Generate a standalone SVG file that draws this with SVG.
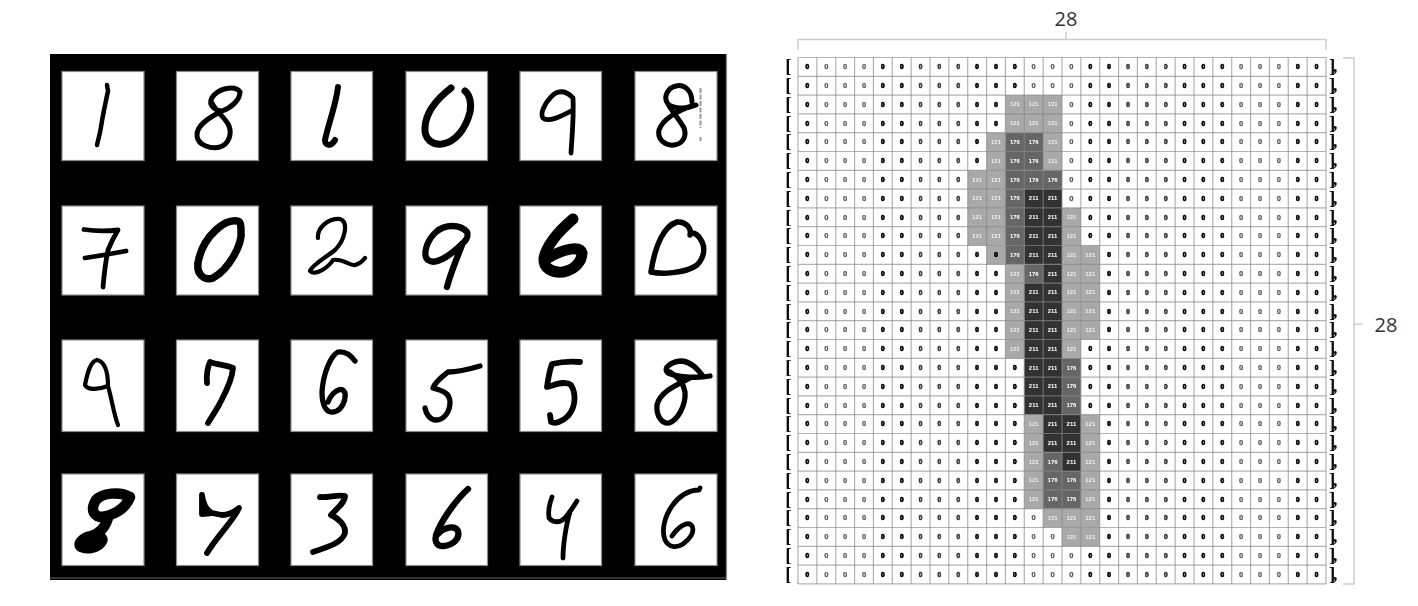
<svg xmlns="http://www.w3.org/2000/svg" width="1418" height="606" viewBox="0 0 1418 606">
<style>
.box{fill:#fff;stroke:#8a8a8a;stroke-width:1.2}
.d{fill:none;stroke:#000;stroke-linecap:round;stroke-linejoin:round}
text{font-family:"Liberation Sans",Arial,sans-serif;text-anchor:middle}
.k{font-size:6.5px;font-weight:700;fill:#000;stroke:#000;stroke-width:.7}
.s{font-size:6.5px;font-weight:700;fill:#333;stroke:#333;stroke-width:.6}
.o{font-size:7.5px;font-weight:700;fill:#555;stroke:#555;stroke-width:.25}
.a{fill:#a9a9a9}.b{fill:#666}.c{fill:#333}
.n{font-size:6px;font-weight:700;fill:#fff}
.m{font-size:6px;font-weight:700;fill:#eee}
.br{font-family:"Liberation Serif",serif;font-size:19px;font-weight:700;fill:#111;text-anchor:start;letter-spacing:-2.5px}
.lab{font-family:"Open Sans",sans-serif;font-size:20px;fill:#333}
.gl{fill:none;stroke:#888;stroke-opacity:.65;stroke-width:1.2;vector-effect:non-scaling-stroke}
.dim{fill:none;stroke:#ccc;stroke-width:1.4}
</style>
<defs>
<filter id="soft" x="-2%" y="-2%" width="104%" height="104%"><feGaussianBlur stdDeviation="0.7"/></filter>
<filter id="soft2" x="-2%" y="-2%" width="104%" height="104%"><feGaussianBlur stdDeviation="0.42"/></filter>
<g id="zr">
<text class="br" x="785.2" y="2.9">[</text><text class="br" x="1329" y="2.9">],</text>
<text class="k" x="807.4">0</text><text class="o" x="826.3">0</text><text class="o" x="845.1">0</text><text class="o" x="864">0</text><text class="k" x="882.9">0</text><text class="k" x="901.7">0</text><text class="s" x="920.6">0</text><text class="s" x="939.4">0</text><text class="s" x="958.3">0</text><text class="k" x="977.1">0</text><text class="k" x="996">0</text><text class="k" x="1014.9">0</text><text class="o" x="1033.7">0</text><text class="o" x="1052.6">0</text><text class="o" x="1071.4">0</text><text class="k" x="1090.3">0</text><text class="k" x="1109.1">0</text><text class="s" x="1128">0</text><text class="s" x="1146.9">0</text><text class="s" x="1165.7">0</text><text class="k" x="1184.6">0</text><text class="k" x="1203.4">0</text><text class="k" x="1222.3">0</text><text class="o" x="1241.1">0</text><text class="o" x="1260">0</text><text class="o" x="1278.9">0</text><text class="k" x="1297.7">0</text><text class="k" x="1316.6">0</text>
</g>
</defs>
<rect width="1418" height="606" fill="#fff"/>
<g id="mnist-panel">
<rect x="50" y="54" width="676.5" height="526" fill="#000"/>
<path d="M726.5 54V580" stroke="#888" stroke-width="1.2" fill="none"/>
<path d="M50 578H726" stroke="#666" stroke-width="1" fill="none"/>
<g id="boxes" filter="url(#soft2)">
<rect class="box" x="62" y="71.5" width="82" height="89"/><rect class="box" x="176.500" y="71.5" width="82" height="89"/><rect class="box" x="291" y="71.5" width="81.500" height="89"/><rect class="box" x="406" y="71.5" width="81.500" height="89"/><rect class="box" x="520" y="71.5" width="81.500" height="89"/><rect class="box" x="635" y="71.5" width="82" height="89"/>
<rect class="box" x="62" y="206" width="82" height="89"/><rect class="box" x="176.500" y="206" width="82" height="89"/><rect class="box" x="291" y="206" width="81.500" height="89"/><rect class="box" x="406" y="206" width="81.500" height="89"/><rect class="box" x="520" y="206" width="81.500" height="89"/><rect class="box" x="635" y="206" width="82" height="89"/>
<rect class="box" x="62" y="340" width="82" height="91.500"/><rect class="box" x="176.500" y="340" width="82" height="91.500"/><rect class="box" x="291" y="340" width="81.500" height="91.500"/><rect class="box" x="406" y="340" width="81.500" height="91.500"/><rect class="box" x="520" y="340" width="81.500" height="91.500"/><rect class="box" x="635" y="340" width="82" height="91.500"/>
<rect class="box" x="62" y="474" width="82" height="91.500"/><rect class="box" x="176.500" y="474" width="82" height="91.500"/><rect class="box" x="291" y="474" width="81.500" height="91.500"/><rect class="box" x="406" y="474" width="81.500" height="91.500"/><rect class="box" x="520" y="474" width="81.500" height="91.500"/><rect class="box" x="635" y="474" width="82" height="91.500"/>
</g>
<g id="digits" filter="url(#soft)">
<path class="d" stroke-width="4.500" d="M107 85L108 91C105 105 102 120 101 127C100 134 98 140 97 145"/>
<path class="d" stroke-width="5" d="M240 92C236 86 222 87 214 95C207 103 212 110 222 111C231 108 240 100 240 92M222 111C210 117 196 125 197 136C198 146 212 149 220 147C229 144 232 134 229 126C226 118 216 112 212 103"/>
<path class="d" stroke-width="6" d="M338 87C336 105 328 125 325 140C325 146 331 147 335 140"/>
<path class="d" stroke-width="7" d="M451 88C438 98 426 112 425 127C424 140 433 145 442 144C456 142 466 128 470 112C472 102 469 94 465 91"/>
<path class="d" stroke-width="4.800" d="M572 97C565 90 557 90 551 97C544 104 540 114 543 118C548 123 562 116 573 110M573 98C574 118 572 135 571 153"/>
<path class="d" stroke-width="5" d="M692 102C692 90 684 84 676 86C667 88 663 98 668 104C672 108 685 110 696 105M692 106C678 110 662 120 659 130C657 140 666 146 674 145C683 144 687 136 684 128C680 120 672 112 668 104"/>
<path d="M700.500 88V128M700.500 137V141" stroke="#999" stroke-width="2" stroke-dasharray="5 1.500" fill="none"/>
<path class="d" stroke-width="4.800" d="M84 229.500Q100 232 118 230Q112 240 108 250C105 265 104 275 103 287M85 258Q105 255 126 251"/>
<path class="d" stroke-width="7.500" d="M237 221C225 219 205 235 199 258C194 275 205 281 213 278C228 270 243 245 241 230C241 224 240 221 237 221Z"/>
<path class="d" stroke-width="4.200" d="M318 238C317 228 328 218 340 219C349 222 345 240 335 250C325 258 312 265 310 271C315 276 328 268 333 260C342 258 350 266 355 265C359 264 362 262 365 258"/>
<path class="d" stroke-width="6.300" d="M467 232C460 224 445 224 436 232C427 240 422 255 428 260C436 266 452 254 464 242C468 238 468 234 467 232M462 245C456 260 450 275 447 287"/>
<path class="d" stroke-width="11" d="M573 219C560 230 547 245 544 258C543 268 552 273 563 272C574 270 582 262 582 253C580 246 565 248 548 258"/>
<path class="d" stroke-width="5.500" d="M677 222C664 226 655 245 651 272C660 274 685 274 697 265C704 258 706 248 701 240C698 234 692 231 690 235C692 228 685 221 677 222Z"/>
<path class="d" stroke-width="4.200" d="M97 360C90 361 87 375 85 385C88 391 100 389 108 386C108 375 106 362 97 360M108 386C112 400 114 415 118 425"/>
<path class="d" stroke-width="5.800" d="M207 383C206 375 208 366 210 362C218 365 226 365 233 368C232 382 224 395 219 405C215 412 211 418 208 423"/>
<path class="d" stroke-width="5.300" d="M355 361C350 354 344 351 338 352C330 356 323 375 322 392C322 405 326 413 333 412C342 411 346 400 345 393C342 385 332 392 328 402"/>
<path class="d" stroke-width="5.300" d="M480 366C470 369 458 372 448 372C443 376 435 382 433 388C440 390 450 392 450 402C450 412 444 420 436 420C430 420 426 414 425 408"/>
<path class="d" stroke-width="5.800" d="M580 362C570 361 560 362 552 364C549 372 548 380 547 387C555 385 565 380 571 385C577 395 575 408 568 416C562 422 555 424 551 422L550 415"/>
<path class="d" stroke-width="5.300" d="M710 376C700 378 680 378 668 373C662 368 672 361 682 361C692 362 698 370 703 376M690 378C676 385 660 392 657 405C656 416 662 424 669 423C678 420 686 405 685 392C684 385 680 378 670 372"/>
<path class="d" stroke-width="10.500" d="M130 497C120 491 102 493 96 500C91 508 92 515 100 517C112 516 125 510 130 497M108 518C105 528 100 532 92 536"/>
<ellipse cx="91" cy="542" rx="17" ry="11" transform="rotate(-15 91 542)"/>
<path class="d" stroke-width="5.800" d="M202 495L202 514L212 513M202 495C203 503 206 510 212 513L222 515C228 515 234 512 239 508C234 520 218 535 207 553"/>
<path class="d" stroke-width="5.800" d="M320 497C328 498 338 494 345 496C345 503 335 510 331 515C338 518 346 525 345 533C342 543 328 547 313 552"/>
<path class="d" stroke-width="6.300" d="M468 489C458 498 445 515 438 530C433 540 436 547 444 546C454 545 460 538 458 531C455 525 444 527 438 534"/>
<path class="d" stroke-width="4.800" d="M552 497C549 505 548 512 549 518C553 523 560 523 565 518C570 512 574 506 577 501M570 512C566 525 563 545 563 558"/>
<path class="d" stroke-width="4.800" d="M700 488L699 490C688 490 678 497 672 506C665 516 661 530 665 540C669 548 677 548 683 544C690 539 695 532 692 526C688 520 678 527 672 536"/>
</g>
</g>
<g id="pixel-grid" filter="url(#soft2)">
<g id="zeros">
<use href="#zr" y="69.2"/><use href="#zr" y="88"/><use href="#zr" y="106.8"/><use href="#zr" y="125.6"/><use href="#zr" y="144.4"/><use href="#zr" y="163.2"/><use href="#zr" y="182"/><use href="#zr" y="200.8"/><use href="#zr" y="219.6"/><use href="#zr" y="238.4"/><use href="#zr" y="257.2"/><use href="#zr" y="276"/><use href="#zr" y="294.8"/><use href="#zr" y="313.6"/><use href="#zr" y="332.4"/><use href="#zr" y="351.2"/><use href="#zr" y="370"/><use href="#zr" y="388.8"/><use href="#zr" y="407.6"/><use href="#zr" y="426.4"/><use href="#zr" y="445.2"/><use href="#zr" y="464"/><use href="#zr" y="482.8"/><use href="#zr" y="501.6"/><use href="#zr" y="520.4"/><use href="#zr" y="539.2"/><use href="#zr" y="558"/><use href="#zr" y="576.8"/>
</g>
<g id="fills" transform="translate(798 57.5) scale(18.857 18.8)">
<rect class="a" x="11" y="2" width="3" height="2"/>
<rect class="a" x="10" y="4" width="1" height="2"/><rect class="b" x="11" y="4" width="2" height="2"/><rect class="a" x="13" y="4" width="1" height="2"/>
<rect class="a" x="9" y="6" width="2" height="1"/><rect class="b" x="11" y="6" width="3" height="1"/>
<rect class="a" x="9" y="7" width="2" height="3"/><rect class="b" x="11" y="7" width="1" height="4"/><rect class="c" x="12" y="7" width="2" height="4"/>
<rect class="a" x="14" y="8" width="1" height="8"/>
<rect class="a" x="10" y="10" width="1" height="1"/><rect class="a" x="15" y="10" width="1" height="5"/>
<rect class="a" x="11" y="11" width="1" height="5"/><rect class="b" x="12" y="11" width="1" height="1"/><rect class="c" x="13" y="11" width="1" height="1"/>
<rect class="c" x="12" y="12" width="2" height="7"/><rect class="b" x="14" y="16" width="1" height="3"/>
<rect class="a" x="12" y="19" width="1" height="5"/><rect class="c" x="13" y="19" width="2" height="2"/><rect class="a" x="15" y="19" width="1" height="6"/><rect class="b" x="13" y="21" width="1" height="3"/><rect class="c" x="14" y="21" width="1" height="1"/><rect class="b" x="14" y="22" width="1" height="2"/>
<rect class="a" x="13" y="24" width="2" height="1"/><rect class="a" x="14" y="25" width="2" height="1"/>
<path class="gl" d="M0 0V28M1 0V28M2 0V28M3 0V28M4 0V28M5 0V28M6 0V28M7 0V28M8 0V28M9 0V28M10 0V28M11 0V28M12 0V28M13 0V28M14 0V28M15 0V28M16 0V28M17 0V28M18 0V28M19 0V28M20 0V28M21 0V28M22 0V28M23 0V28M24 0V28M25 0V28M26 0V28M27 0V28M28 0V28"/>
<path class="gl" d="M0 0H28M0 1H28M0 2H28M0 3H28M0 4H28M0 5H28M0 6H28M0 7H28M0 8H28M0 9H28M0 10H28M0 11H28M0 12H28M0 13H28M0 14H28M0 15H28M0 16H28M0 17H28M0 18H28M0 19H28M0 20H28M0 21H28M0 22H28M0 23H28M0 24H28M0 25H28M0 26H28M0 27H28M0 28H28"/>
</g>
<g id="values">
<text class="k" x="996" y="257.200">0</text>
<text class="m" x="1014.900" y="106.300">121</text><text class="m" x="1033.700" y="106.300">121</text><text class="m" x="1052.600" y="106.300">121</text>
<text class="m" x="1014.900" y="125.100">121</text><text class="m" x="1033.700" y="125.100">121</text><text class="m" x="1052.600" y="125.100">121</text>
<text class="m" x="996" y="143.900">121</text><text class="n" x="1014.900" y="143.900">176</text><text class="n" x="1033.700" y="143.900">176</text><text class="m" x="1052.600" y="143.900">121</text>
<text class="m" x="996" y="162.700">121</text><text class="n" x="1014.900" y="162.700">176</text><text class="n" x="1033.700" y="162.700">176</text><text class="m" x="1052.600" y="162.700">121</text>
<text class="m" x="977.100" y="181.500">121</text><text class="m" x="996" y="181.500">121</text><text class="n" x="1014.900" y="181.500">176</text><text class="n" x="1033.700" y="181.500">176</text><text class="n" x="1052.600" y="181.500">176</text>
<text class="m" x="977.100" y="200.300">121</text><text class="m" x="996" y="200.300">121</text><text class="n" x="1014.900" y="200.300">176</text><text class="n" x="1033.700" y="200.300">211</text><text class="n" x="1052.600" y="200.300">211</text>
<text class="m" x="977.100" y="219.100">121</text><text class="m" x="996" y="219.100">121</text><text class="n" x="1014.900" y="219.100">176</text><text class="n" x="1033.700" y="219.100">211</text><text class="n" x="1052.600" y="219.100">211</text><text class="m" x="1071.400" y="219.100">121</text>
<text class="m" x="977.100" y="237.900">121</text><text class="m" x="996" y="237.900">121</text><text class="n" x="1014.900" y="237.900">176</text><text class="n" x="1033.700" y="237.900">211</text><text class="n" x="1052.600" y="237.900">211</text><text class="m" x="1071.400" y="237.900">121</text>
<text class="n" x="1014.900" y="256.700">176</text><text class="n" x="1033.700" y="256.700">211</text><text class="n" x="1052.600" y="256.700">211</text><text class="m" x="1071.400" y="256.700">121</text><text class="m" x="1090.300" y="256.700">121</text>
<text class="m" x="1014.900" y="275.500">121</text><text class="n" x="1033.700" y="275.500">176</text><text class="n" x="1052.600" y="275.500">211</text><text class="m" x="1071.400" y="275.500">121</text><text class="m" x="1090.300" y="275.500">121</text>
<text class="m" x="1014.900" y="294.300">121</text><text class="n" x="1033.700" y="294.300">211</text><text class="n" x="1052.600" y="294.300">211</text><text class="m" x="1071.400" y="294.300">121</text><text class="m" x="1090.300" y="294.300">121</text>
<text class="m" x="1014.900" y="313.100">121</text><text class="n" x="1033.700" y="313.100">211</text><text class="n" x="1052.600" y="313.100">211</text><text class="m" x="1071.400" y="313.100">121</text><text class="m" x="1090.300" y="313.100">121</text>
<text class="m" x="1014.900" y="331.900">121</text><text class="n" x="1033.700" y="331.900">211</text><text class="n" x="1052.600" y="331.900">211</text><text class="m" x="1071.400" y="331.900">121</text><text class="m" x="1090.300" y="331.900">121</text>
<text class="m" x="1014.900" y="350.700">121</text><text class="n" x="1033.700" y="350.700">211</text><text class="n" x="1052.600" y="350.700">211</text><text class="m" x="1071.400" y="350.700">121</text>
<text class="n" x="1033.700" y="369.500">211</text><text class="n" x="1052.600" y="369.500">211</text><text class="n" x="1071.400" y="369.500">176</text>
<text class="n" x="1033.700" y="388.300">211</text><text class="n" x="1052.600" y="388.300">211</text><text class="n" x="1071.400" y="388.300">176</text>
<text class="n" x="1033.700" y="407.100">211</text><text class="n" x="1052.600" y="407.100">211</text><text class="n" x="1071.400" y="407.100">176</text>
<text class="m" x="1033.700" y="425.900">121</text><text class="n" x="1052.600" y="425.900">211</text><text class="n" x="1071.400" y="425.900">211</text><text class="m" x="1090.300" y="425.900">121</text>
<text class="m" x="1033.700" y="444.700">121</text><text class="n" x="1052.600" y="444.700">211</text><text class="n" x="1071.400" y="444.700">211</text><text class="m" x="1090.300" y="444.700">121</text>
<text class="m" x="1033.700" y="463.500">121</text><text class="n" x="1052.600" y="463.500">176</text><text class="n" x="1071.400" y="463.500">211</text><text class="m" x="1090.300" y="463.500">121</text>
<text class="m" x="1033.700" y="482.300">121</text><text class="n" x="1052.600" y="482.300">176</text><text class="n" x="1071.400" y="482.300">176</text><text class="m" x="1090.300" y="482.300">121</text>
<text class="m" x="1033.700" y="501.100">121</text><text class="n" x="1052.600" y="501.100">176</text><text class="n" x="1071.400" y="501.100">176</text><text class="m" x="1090.300" y="501.100">121</text>
<text class="m" x="1052.600" y="519.900">121</text><text class="m" x="1071.400" y="519.900">121</text><text class="m" x="1090.300" y="519.900">121</text>
<text class="m" x="1071.400" y="538.700">121</text><text class="m" x="1090.300" y="538.700">121</text>
</g>
</g>
<g id="dimension-top">
<path class="dim" d="M798 50V39.500H1326V50M1066 39.500V32"/>
<text class="lab" x="1066" y="26">28</text>
</g>
<g id="dimension-right">
<path class="dim" d="M1343 58H1354V584H1343M1354 324.300H1362"/>
<text class="lab" x="1386" y="331.500">28</text>
</g>
</svg>
